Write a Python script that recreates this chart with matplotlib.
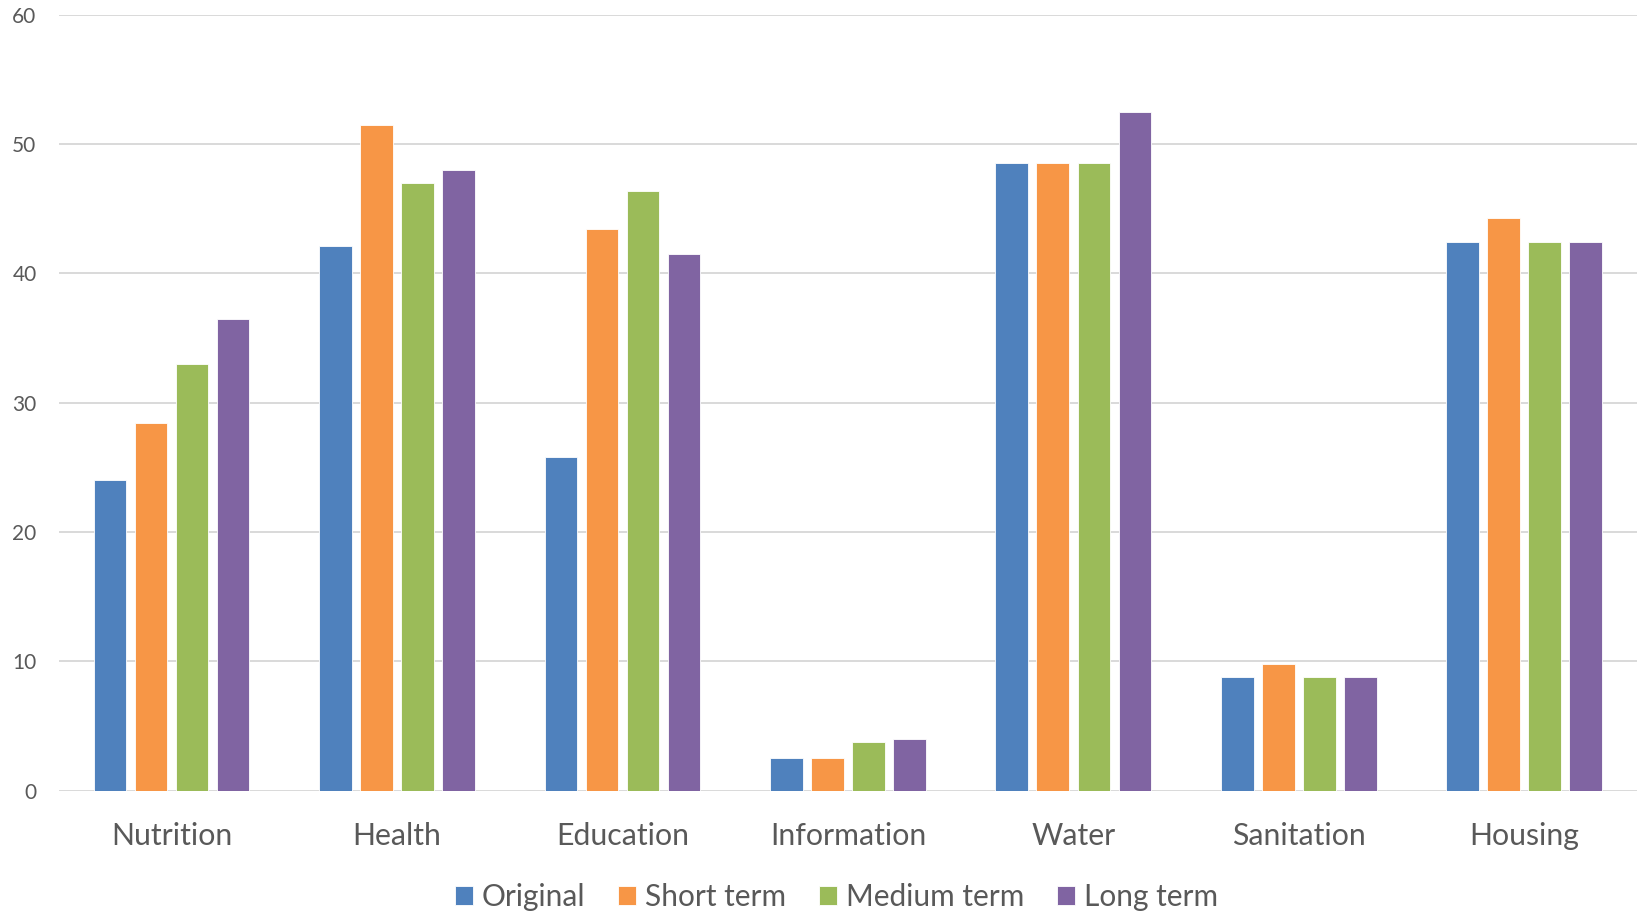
import numpy as np
import matplotlib
matplotlib.use("Agg")
import matplotlib.pyplot as plt

plt.rcParams['font.family'] = ['Lato', 'DejaVu Sans']

categorias = ["Nutrition", "Health", "Education", "Information", "Water", "Sanitation", "Housing"]
series = ["Original", "Short term", "Medium term", "Long term"]

original = [24.0, 42.1, 25.8, 2.5, 48.5, 8.8, 42.4]
corto = [28.4, 51.5, 43.4, 2.5, 48.5, 9.8, 44.3]
medio = [33.0, 47.0, 46.4, 3.8, 48.5, 8.8, 42.4]
largo = [36.5, 48.0, 41.5, 4.0, 52.5, 8.8, 42.4]

colores = ["#4F81BD", "#F79646", "#9BBB59", "#8064A2"]
gris = "#595959"

fig = plt.figure(figsize=(16.37, 9.11), dpi=100)
ax = fig.add_axes([0.0359, 0.132, 0.9641, 0.852])

x = np.arange(len(categorias))
paso = 0.182
ancho = 0.145
for i, (vals, nombre) in enumerate(zip([original, corto, medio, largo], series)):
    ax.bar(x + (i - 1.5) * paso, vals, width=ancho, color=colores[i],
           edgecolor="white", linewidth=0.6, label=nombre, zorder=3)

ax.set_xlim(-0.5, len(categorias) - 0.5)
ax.set_ylim(0, 60)
ax.set_yticks(range(0, 61, 10))
ax.set_xticks(x)
ax.set_xticklabels(categorias)
ax.grid(axis="y", color="#D9D9D9", linewidth=1.4, zorder=0)
ax.set_axisbelow(True)
for s in ax.spines.values():
    s.set_visible(False)
ax.tick_params(axis="y", length=0, pad=16, labelsize=15, labelcolor=gris)
ax.tick_params(axis="x", length=0, pad=22.5, labelsize=21.8, labelcolor=gris)

fig.legend(loc="center", bbox_to_anchor=(0.511, 0.015), ncol=4, frameon=False,
           fontsize=21.5, handlelength=0.6, handleheight=0.6, handletextpad=0.3,
           columnspacing=1.1, labelcolor=gris)

fig.savefig("out.png", dpi=100)
